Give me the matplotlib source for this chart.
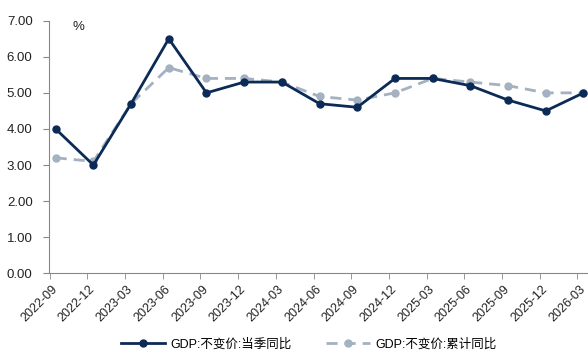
import matplotlib
matplotlib.use("Agg")
import matplotlib.pyplot as plt
import numpy as np

plt.rcParams['font.family'] = ['Liberation Sans', 'Noto Sans CJK SC', 'DejaVu Sans']

categories = ["2022-09", "2022-12", "2023-03", "2023-06", "2023-09", "2023-12", "2024-03",
              "2024-06", "2024-09", "2024-12", "2025-03", "2025-06", "2025-09", "2025-12", "2026-03"]
quarterly = [4.0, 3.0, 4.7, 6.5, 5.0, 5.3, 5.3, 4.7, 4.6, 5.4, 5.4, 5.2, 4.8, 4.5, 5.0]
cumulative = [3.2, 3.1, 4.7, 5.7, 5.4, 5.4, 5.3, 4.9, 4.8, 5.0, 5.4, 5.3, 5.2, 5.0, 5.0]

navy = "#0c2a56"
grey = "#a3b1c0"

fig = plt.figure(figsize=(5.88, 3.54), dpi=100)
ax = fig.add_axes([0.0838, 0.228, 0.9162, 0.7135])
x = np.arange(len(categories))

ax.plot(x, cumulative, color=grey, lw=2, ls=(0, (4, 2.5)), marker='o', ms=5,
        label="GDP:不变价:累计同比", zorder=2)
ax.plot(x, quarterly, color=navy, lw=2, marker='o', ms=5,
        label="GDP:不变价:当季同比", zorder=3)

ax.set_ylim(0, 7)
ax.set_xlim(-0.17, 14.12)
yt = np.arange(0, 7.01, 1)
ax.set_yticks(yt)
ax.set_yticklabels([f"{v:.2f}" for v in yt], fontsize=9.5, color="#222222")
off = 0.16
ax.set_xticks(x - 0.12)
ax.set_xticklabels(categories, rotation=45, ha='right', va='top', rotation_mode='anchor',
                   fontsize=9, color="#222222")
ax.set_xticks(x - off, minor=True)
ax.tick_params(axis='x', which='major', length=0, pad=7)
ax.tick_params(axis='x', which='minor', length=4, direction='out', color="#888888")
for s in ['top', 'right']:
    ax.spines[s].set_visible(False)
for s in ['left', 'bottom']:
    ax.spines[s].set_color("#888888")
ax.tick_params(axis='y', length=4, direction='out', pad=8, color="#888888")

fig.text(0.1225, 0.925, "%", fontsize=9.5, color="#222222", ha='left', va='center')

h, l = ax.get_legend_handles_labels()
fig.legend([h[1], h[0]], [l[1], l[0]], loc='center', bbox_to_anchor=(0.525, 0.027), ncol=2,
           frameon=False, fontsize=9, handlelength=3.5, columnspacing=2.8, handletextpad=0.4,
           borderpad=0)

fig.savefig("out.png", dpi=100)
